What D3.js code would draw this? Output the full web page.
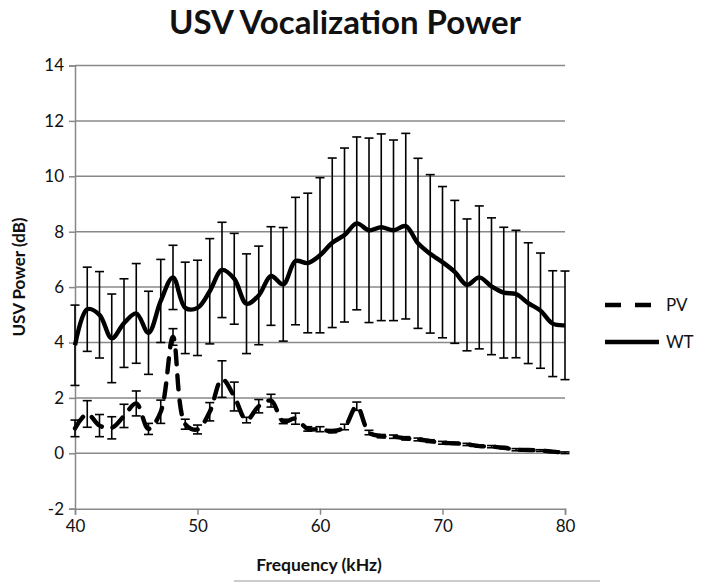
<!DOCTYPE html>
<html><head><meta charset="utf-8">
<script src="https://cdn.jsdelivr.net/npm/d3@7"></script>
<style>body{margin:0;background:#fff}svg{display:block}</style>
</head><body><div id="chart"></div>
<script>
const freqs = d3.range(40, 81);
const wtValues = [3.9,5.2,5.0,4.15,4.7,5.05,4.35,5.5,6.35,5.25,5.25,5.85,6.62,6.3,5.4,5.7,6.4,6.1,6.94,6.87,7.15,7.6,7.88,8.3,8.05,8.16,8.05,8.2,7.58,7.2,6.9,6.55,6.08,6.35,6.03,5.8,5.75,5.42,5.15,4.68,4.62];
const wtErr = [1.45,1.52,1.56,1.6,1.6,1.8,1.5,1.5,1.16,1.65,1.72,1.9,1.72,1.64,1.8,1.78,1.78,2.05,2.3,2.52,2.8,3.06,3.14,3.12,3.33,3.37,3.26,3.35,3.07,2.86,2.73,2.58,2.38,2.58,2.47,2.36,2.3,2.18,2.08,1.91,1.96];
const pvValues = [0.9,1.42,1.0,0.92,1.35,1.8,0.88,1.5,4.2,1.05,0.86,1.5,2.68,2.05,1.2,1.7,1.9,1.15,1.25,0.88,0.87,0.8,0.95,1.7,0.75,0.62,0.6,0.54,0.5,0.44,0.38,0.36,0.32,0.26,0.24,0.2,0.13,0.12,0.1,0.06,0.02];
const pvErr = [0.3,0.48,0.4,0.4,0.42,0.45,0.2,0.42,0.3,0.18,0.16,0.33,0.66,0.52,0.1,0.24,0.23,0.08,0.2,0.08,0.09,0.06,0.1,0.15,0.08,0.06,0.06,0.06,0.05,0.05,0.05,0.04,0.04,0.04,0.04,0.04,0.04,0.04,0.03,0.03,0.03];
const xTicks = [40,50,60,70,80];
const yTicks = [-2,0,2,4,6,8,10,12,14];
const seriesNames = ["PV","WT"];

const W = 703, H = 583;
const svg = d3.select("#chart").append("svg").attr("width", W).attr("height", H);
const x = d3.scaleLinear().domain([40, 80]).range([75, 565]);
const y = d3.scaleLinear().domain([-2, 14]).range([508.7, 65.5]);
const gridColor = "#888";
const font = "Lato, 'Open Sans', sans-serif";

// grid
svg.append("g").selectAll("line").data(yTicks.filter(d => d > -2)).join("line")
  .attr("x1", x(40)).attr("x2", x(80)).attr("y1", d => y(d)).attr("y2", d => y(d))
  .attr("stroke", gridColor).attr("stroke-width", 1.5);

// axes
const yAxis = svg.append("g").attr("transform", `translate(${x(40)},0)`)
  .call(d3.axisLeft(y).tickValues(yTicks).tickFormat(d => String(d)).tickSize(6).tickPadding(5));
const xAxis = svg.append("g").attr("transform", `translate(0,${y(-2)})`)
  .call(d3.axisBottom(x).tickValues(xTicks).tickFormat(d => String(d)).tickSize(6).tickPadding(5));
[yAxis, xAxis].forEach(a => {
  a.selectAll("path,line").attr("stroke", gridColor).attr("stroke-width", 1.5);
  a.selectAll("text").attr("font-family", font).attr("font-size", 17).attr("fill", "#111");
});

// error bars
function errorBars(vals, errs, cls) {
  const g = svg.append("g").attr("class", cls);
  const data = freqs.map((f, i) => ({f, v: vals[i], e: errs[i]}));
  g.selectAll("line.v").data(data).join("line").attr("class", "v")
    .attr("x1", d => x(d.f)).attr("x2", d => x(d.f))
    .attr("y1", d => y(d.v + d.e)).attr("y2", d => y(d.v - d.e))
    .attr("stroke", "#000").attr("stroke-width", 1.6);
  ["t","b"].forEach(k => {
    g.selectAll("line." + k).data(data).join("line").attr("class", k)
      .attr("x1", d => x(d.f) - 4.5).attr("x2", d => x(d.f) + 4.5)
      .attr("y1", d => y(k === "t" ? d.v + d.e : d.v - d.e))
      .attr("y2", d => y(k === "t" ? d.v + d.e : d.v - d.e))
      .attr("stroke", "#000").attr("stroke-width", 1.6);
  });
}
errorBars(wtValues, wtErr, "wt-err");
errorBars(pvValues, pvErr, "pv-err");

const line = d3.line().x((d, i) => x(freqs[i])).y(d => y(d)).curve(d3.curveCatmullRom.alpha(0.5));
svg.append("path").datum(wtValues).attr("d", line)
  .attr("fill", "none").attr("stroke", "#000").attr("stroke-width", 4.4).attr("stroke-linejoin", "round");
svg.append("path").datum(pvValues).attr("d", line)
  .attr("fill", "none").attr("stroke", "#000").attr("stroke-width", 4.4)
  .attr("stroke-dasharray", "14,11").attr("stroke-linecap", "round");

// title & labels
svg.append("text").attr("x", 345).attr("y", 34).attr("text-anchor", "middle")
  .attr("font-family", font).attr("font-weight", "bold").attr("font-size", 33).attr("fill", "#111")
  .text("USV Vocalization Power");
svg.append("text").attr("transform", "translate(25,277) rotate(-90)").attr("text-anchor", "middle")
  .attr("font-family", font).attr("font-weight", "bold").attr("font-size", 17).attr("fill", "#111")
  .text("USV Power (dB)");
svg.append("text").attr("x", 319).attr("y", 571).attr("text-anchor", "middle")
  .attr("font-family", font).attr("font-weight", "bold").attr("font-size", 17.5).attr("fill", "#111")
  .text("Frequency (kHz)");

// legend
const leg = svg.append("g");
seriesNames.forEach((name, i) => {
  const ly = 305 + i * 37;
  leg.append("line").attr("x1", 605).attr("x2", 659).attr("y1", ly).attr("y2", ly)
    .attr("stroke", "#000").attr("stroke-width", 4.4)
    .attr("stroke-dasharray", name === "PV" ? "16,14" : null);
  leg.append("text").attr("x", 666).attr("y", ly + 6)
    .attr("font-family", font).attr("font-size", 17).attr("fill", "#111").text(name);
});

// bottom border artifact
svg.append("line").attr("x1", 234).attr("x2", 600).attr("y1", 581).attr("y2", 581)
  .attr("stroke", "#bbb").attr("stroke-width", 1.5);
</script></body></html>
